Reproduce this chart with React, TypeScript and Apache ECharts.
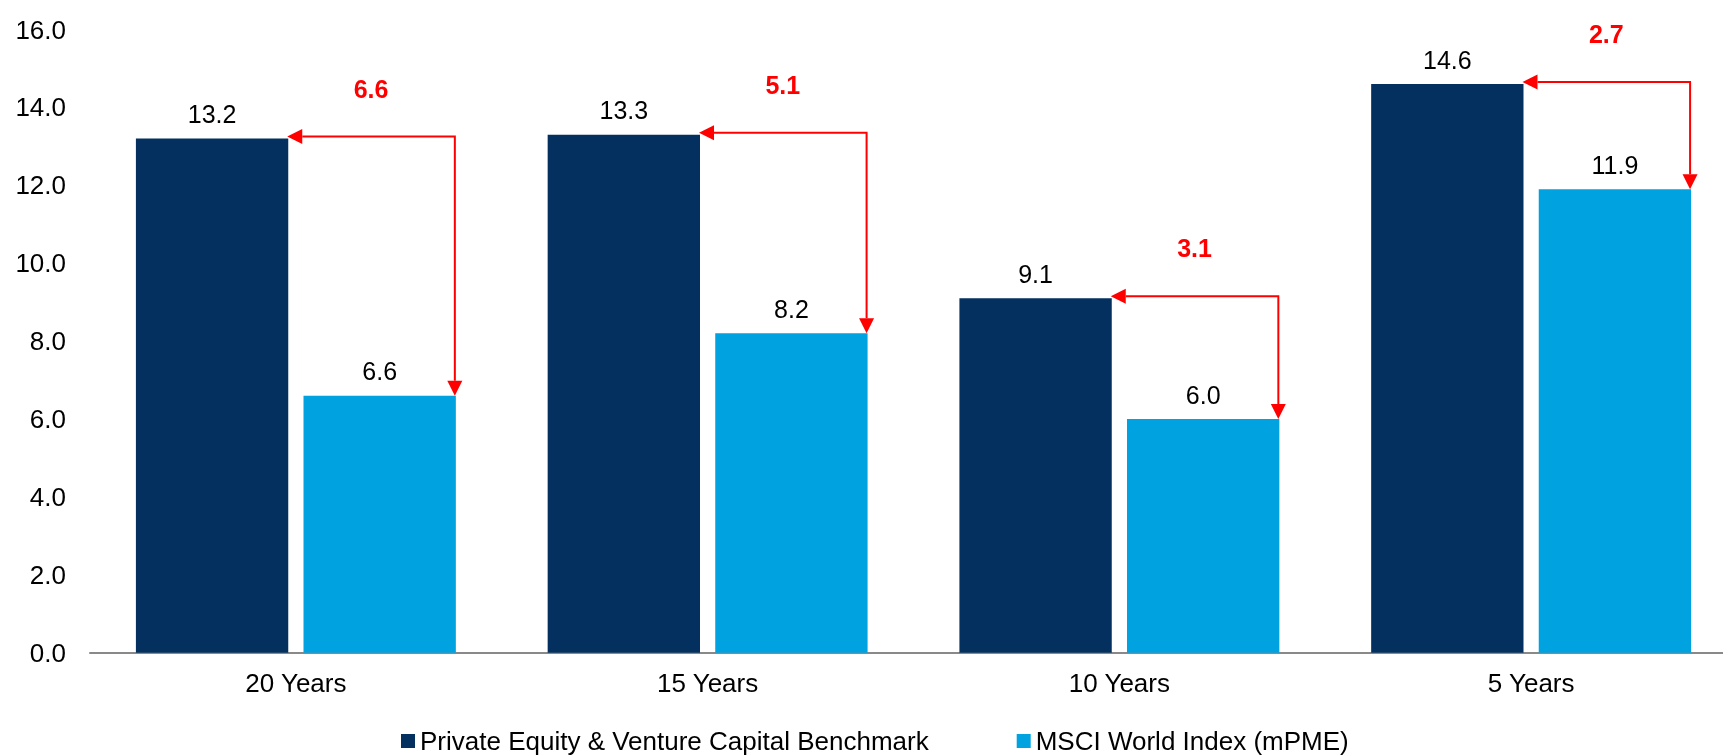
import React, { useEffect, useRef } from "react";
import * as echarts from "echarts";

const categories = ["20 Years", "15 Years", "10 Years", "5 Years"];
const peBenchmark = [13.2, 13.3, 9.1, 14.6];
const msciWorld = [6.6, 8.2, 6.0, 11.9];
const spreadLabels = ["6.6", "5.1", "3.1", "2.7"];
const seriesNames = ["Private Equity & Venture Capital Benchmark", "MSCI World Index (mPME)"];

const FONT = "'Liberation Sans', Arial, Helvetica, sans-serif";
const BAR_FRACTION = 0.37;
const GAP_FRACTION = 0.1;
const RED = "#FF0000";

export default function App() {
  const ref = useRef<HTMLDivElement>(null);

  useEffect(() => {
    if (!ref.current) return;
    const chart = echarts.init(ref.current, null, { renderer: "svg" });

    const arrowData = categories.map((c, i) => [i, peBenchmark[i], msciWorld[i]]);

    const renderArrow = (params: any, api: any) => {
      const idx = api.value(0);
      const pe = api.value(1);
      const ms = api.value(2);
      const label = spreadLabels[params.dataIndex];
      const bandW = api.size([1, 0])[0];
      const barW = bandW * BAR_FRACTION;
      const gap = barW * GAP_FRACTION;
      const center = api.coord([idx, 0])[0];
      const peRight = center - gap / 2;
      const msRight = center + gap / 2 + barW;
      const yTop = api.coord([idx, pe])[1] - 2;
      const yBottom = api.coord([idx, ms])[1];
      const xTip = peRight - 1;
      const xVert = msRight - 1;
      const head = 15;
      const hw = 7.5;
      return {
        type: "group",
        children: [
          {
            type: "polyline",
            shape: {
              points: [
                [xTip + head, yTop],
                [xVert, yTop],
                [xVert, yBottom - head],
              ],
            },
            style: { stroke: RED, lineWidth: 2, fill: "none" },
          },
          {
            type: "polygon",
            shape: {
              points: [
                [xTip, yTop],
                [xTip + head, yTop - hw],
                [xTip + head, yTop + hw],
              ],
            },
            style: { fill: RED },
          },
          {
            type: "polygon",
            shape: {
              points: [
                [xVert, yBottom],
                [xVert - hw, yBottom - head],
                [xVert + hw, yBottom - head],
              ],
            },
            style: { fill: RED },
          },
          {
            type: "text",
            x: (xTip + xVert) / 2,
            y: yTop - 48,
            style: {
              text: label,
              fill: RED,
              font: `bold 25px ${FONT}`,
              align: "center",
              verticalAlign: "middle",
            },
          },
        ],
      };
    };

    chart.setOption({
      animation: false,
      textStyle: { fontFamily: FONT },
      grid: {
        left: 90,
        right: -14,
        top: 29.5,
        bottom: 103.3,
        containLabel: false,
        outerBoundsMode: "none",
      },
      legend: {
        data: seriesNames,
        left: 396,
        top: 723,
        icon: "rect",
        itemWidth: 14,
        itemHeight: 14,
        itemGap: 88,
        textStyle: { fontSize: 26, color: "#000", fontFamily: FONT },
      },
      xAxis: {
        type: "category",
        data: categories,
        axisTick: { show: false },
        axisLine: { lineStyle: { color: "#898989", width: 2 } },
        axisLabel: { fontSize: 26, color: "#000", margin: 17, fontFamily: FONT },
        splitLine: { show: false },
      },
      yAxis: {
        type: "value",
        min: 0,
        max: 16,
        interval: 2,
        axisLine: { show: false },
        axisTick: { show: false },
        splitLine: { show: false },
        axisLabel: {
          fontSize: 26,
          color: "#000",
          margin: 24,
          fontFamily: FONT,
          formatter: (v: number) => v.toFixed(1),
        },
      },
      series: [
        {
          name: seriesNames[0],
          type: "bar",
          data: peBenchmark,
          barWidth: `${BAR_FRACTION * 100}%`,
          barGap: `${GAP_FRACTION * 100}%`,
          itemStyle: { color: "#03305F" },
          label: {
            show: true,
            position: "top",
            distance: 12,
            fontSize: 25,
            color: "#000",
            fontFamily: FONT,
            formatter: (p: any) => Number(p.value).toFixed(1),
          },
        },
        {
          name: seriesNames[1],
          type: "bar",
          data: msciWorld,
          barWidth: `${BAR_FRACTION * 100}%`,
          barGap: `${GAP_FRACTION * 100}%`,
          itemStyle: { color: "#00A2E0" },
          label: {
            show: true,
            position: "top",
            distance: 12,
            fontSize: 25,
            color: "#000",
            fontFamily: FONT,
            formatter: (p: any) => Number(p.value).toFixed(1),
          },
        },
        {
          type: "custom",
          name: "spread",
          renderItem: renderArrow,
          data: arrowData,
          encode: { x: 0, y: 1 },
          z: 5,
          silent: true,
          clip: false,
        },
      ],
    });

    return () => chart.dispose();
  }, []);

  return (
    <div
      ref={ref}
      style={{ position: "fixed", left: 0, top: 0, width: 1723, height: 756 }}
    />
  );
}
